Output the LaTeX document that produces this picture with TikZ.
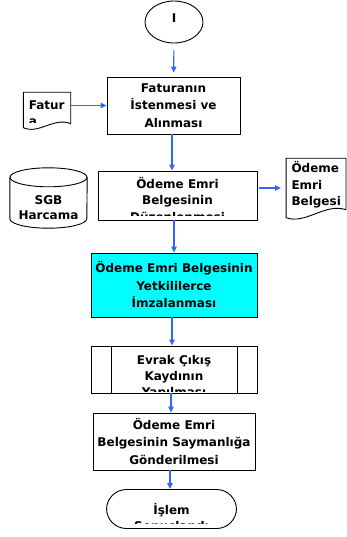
\documentclass[tikz,border=0pt]{standalone}
\usepackage{fontspec}
\setmainfont{DejaVu Sans}
\usepackage{tikz}
\usetikzlibrary{shapes.geometric,arrows.meta,positioning,calc}
\definecolor{flowblue}{HTML}{3366FF}
\definecolor{signcyan}{HTML}{00FFFF}
\tikzset{
  procbox/.style={
    draw=black, fill=white, line width=0.9pt,
    align=center, font=\bfseries\fontsize{12}{17.5}\selectfont, inner sep=2pt
  },
  cuttext/.style={
    anchor=north, align=center, inner sep=0pt,
    minimum width=0pt, minimum height=0pt,
    font=\bfseries\fontsize{12}{16.3}\selectfont
  },
  cutbox/.style n args={3}{
    procbox,
    path picture={
      \clip (path picture bounding box.north west)
        rectangle ([yshift=#3]path picture bounding box.south east);
      \node[cuttext] at ([yshift=-#2]path picture bounding box.north) {#1};}
  },
  doctext/.style={
    anchor=north west, align=left, inner sep=0pt,
    minimum width=0pt, minimum height=0pt,
    font=\bfseries\fontsize{12}{16.5}\selectfont
  },
  doccut/.style n args={3}{
    shapeline,
    path picture={
      \clip (path picture bounding box.north west)
        rectangle ([yshift=#3]path picture bounding box.south east);
      \node[doctext] at
        ([xshift=5pt,yshift=-#2]path picture bounding box.north west) {#1};}
  },
  docarea/.style={inner sep=0pt, align=center,
    font=\bfseries\fontsize{12}{15.5}\selectfont},
  shapeline/.style={draw=black, line width=0.9pt},
  startnode/.style={ellipse, draw=black, line width=0.9pt,
    minimum width=58pt, minimum height=42pt, inner sep=0pt, text depth=8pt,
    font=\bfseries\fontsize{12}{14}\selectfont},
  flowarr/.style={draw=flowblue, line width=1.1pt,
    -{Triangle[length=6pt,width=5.5pt]}}
}

\begin{document}
\begin{tikzpicture}[x=1pt, y=-1pt]
  \useasboundingbox (0,0) rectangle (346,537);

  \node[startnode] (basla) at (174,22) {I};
  \node[procbox, minimum width=133pt, minimum height=57pt] (istenme)
    at (173.5,105.5) {Faturanın\\İstenmesi ve\\Alınması};
  \node[docarea, minimum width=47pt, minimum height=36pt] (fatura) at (47,110.5) {};
  \node[cutbox={Ödeme Emri\\Belgesinin\\Düzenlenmesi}{6pt}{5pt},
    minimum width=159pt, minimum height=49pt] (duzen) at (177.5,195.5) {};
  \node[docarea, minimum width=77pt, minimum height=41pt] (sgb)
    at (48.5,207.5) {SGB\\Harcama};
  \node[docarea, minimum width=59.5pt, minimum height=60pt] (belge) at (316,188.5) {};
  \node[procbox, fill=signcyan, minimum width=166pt, minimum height=64pt] (imza)
    at (174,285) {Ödeme Emri Belgesinin\\Yetkililerce\\İmzalanması};
  \node[cutbox={Evrak Çıkış\\Kaydının\\Yapılması}{8.5pt}{2pt},
    minimum width=166pt, minimum height=47pt] (kayit) at (174,369.5) {};
  \node[procbox, minimum width=162pt, minimum height=57pt] (sayman)
    at (174,441.5) {Ödeme Emri\\Belgesinin Saymanlığa\\Gönderilmesi};
  \node[cutbox={İşlem\\Sonuçlandı}{13pt}{5.5pt}, rounded corners=20pt,
    minimum width=130pt, minimum height=39pt] (bitis) at (171.5,509) {};

  % document shapes
  \draw[doccut={Fatur\\a}{8pt}{12pt}]
    (fatura.north west) -- (fatura.north east) -- ([yshift=5pt]fatura.south east)
    .. controls ($(fatura.south east)!0.35!(fatura.south west)+(0,12pt)$)
    and ($(fatura.south east)!0.67!(fatura.south west)+(0,-6pt)$)
    .. ([yshift=1pt]fatura.south west) -- cycle;
  \draw[doccut={Ödeme\\Emri\\Belgesi}{3pt}{14.5pt}]
    (belge.north west) -- (belge.north east) -- ([yshift=9pt]belge.south east)
    .. controls ($(belge.south east)!0.35!(belge.south west)+(0,16pt)$)
    and ($(belge.south east)!0.67!(belge.south west)+(0,-6pt)$)
    .. ([yshift=1pt]belge.south west) -- cycle;

  % database
  \draw[shapeline] ([yshift=9.5pt]sgb.north) ellipse [x radius=38.5, y radius=9.5];
  \draw[shapeline] ([yshift=9.5pt]sgb.north west) -- ([yshift=9.5pt]sgb.south west)
    arc[start angle=180, end angle=0, x radius=38.5, y radius=9.5]
    -- ([yshift=9.5pt]sgb.north east);

  % predefined process bars
  \draw[shapeline] ([xshift=21pt]kayit.north west) -- ([xshift=21pt]kayit.south west);
  \draw[shapeline] ([xshift=-20pt]kayit.north east) -- ([xshift=-20pt]kayit.south east);

  \draw[flowarr, shorten <=7pt, shorten >=4pt] (basla) -- (istenme);
  \draw[flowarr] (fatura.east |- istenme) -- (istenme);
  \draw[flowarr] ([xshift=-1.5pt]istenme.south) -- ([xshift=-1.5pt]istenme.south |- duzen.north);
  \draw[flowarr, shorten <=2pt, shorten >=5pt]
    ([yshift=7.5pt]duzen.east) -- ([yshift=7.5pt]duzen.east -| belge.west);
  \draw[flowarr] (duzen.south -| imza) -- (imza);
  \draw[flowarr] ([xshift=-2pt]imza.south) -- ([xshift=-2pt]imza.south |- kayit.north);
  \draw[flowarr] ([xshift=-3pt]kayit.south) -- ([xshift=-3pt]kayit.south |- sayman.north);
  \draw[flowarr] ([xshift=-4pt]sayman.south) -- ([xshift=-4pt]sayman.south |- bitis.north);
\end{tikzpicture}
\end{document}
